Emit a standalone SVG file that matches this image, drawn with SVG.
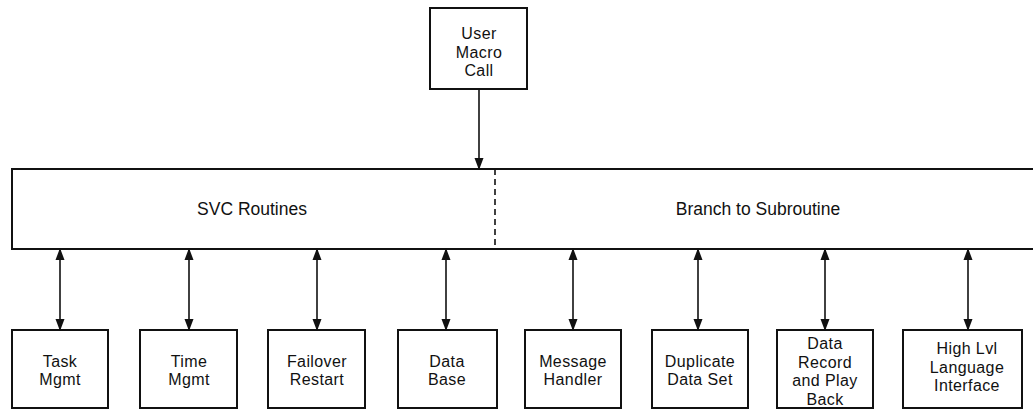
<svg xmlns="http://www.w3.org/2000/svg" width="1033" height="410" viewBox="0 0 1033 410">
<style>
.box{fill:#fff;stroke:#111;stroke-width:2}
.t{font-family:"Liberation Sans",Arial,sans-serif;font-size:16px;letter-spacing:0.4px;fill:#111;text-anchor:middle}
.h{font-family:"Liberation Sans",Arial,sans-serif;font-size:17.5px;fill:#111;text-anchor:middle}
.c{stroke:#111;stroke-width:1.6;fill:none}
</style>
<defs>
<marker id="ah" markerUnits="userSpaceOnUse" markerWidth="12" markerHeight="12" viewBox="0 0 12 12" refX="11" refY="6" orient="auto-start-reverse">
<path d="M0,1.5 L12,6 L0,10.5 Z" fill="#111"/>
</marker>
</defs>
<rect width="1033" height="410" fill="#fff"/>
<g id="user">
<rect class="box" x="430" y="8" width="97" height="81"/>
<text class="t" x="479" y="39">User</text>
<text class="t" x="479" y="57.5">Macro</text>
<text class="t" x="479" y="76">Call</text>
</g>
<g id="routines">
<rect class="box" x="12" y="169" width="1030" height="80"/>
<line x1="495" y1="169" x2="495" y2="249" stroke="#111" stroke-width="1.6" stroke-dasharray="6,4"/>
<text class="h" x="252" y="215">SVC Routines</text>
<text class="h" x="758" y="215">Branch to Subroutine</text>
</g>
<g id="task">
<rect class="box" x="12" y="330" width="96" height="78"/>
<text class="t" x="60" y="366.5">Task</text>
<text class="t" x="60" y="385">Mgmt</text>
</g>
<g id="time">
<rect class="box" x="140" y="330" width="97" height="78"/>
<text class="t" x="189" y="366.5">Time</text>
<text class="t" x="189" y="385">Mgmt</text>
</g>
<g id="failover">
<rect class="box" x="268" y="330" width="97" height="78"/>
<text class="t" x="317" y="366.5">Failover</text>
<text class="t" x="317" y="385">Restart</text>
</g>
<g id="database">
<rect class="box" x="398" y="330" width="99" height="78"/>
<text class="t" x="447" y="366.5">Data</text>
<text class="t" x="447" y="385">Base</text>
</g>
<g id="message">
<rect class="box" x="525" y="330" width="96" height="78"/>
<text class="t" x="573" y="366.5">Message</text>
<text class="t" x="573" y="385">Handler</text>
</g>
<g id="duplicate">
<rect class="box" x="652" y="330" width="96" height="78"/>
<text class="t" x="700" y="366.5">Duplicate</text>
<text class="t" x="700" y="385">Data Set</text>
</g>
<g id="record">
<rect class="box" x="777" y="330" width="96" height="78"/>
<text class="t" x="825" y="349">Data</text>
<text class="t" x="825" y="367.5">Record</text>
<text class="t" x="825" y="386">and Play</text>
<text class="t" x="825" y="404.5">Back</text>
</g>
<g id="highlvl">
<rect class="box" x="903" y="330" width="119" height="78"/>
<text class="t" x="967" y="354">High Lvl</text>
<text class="t" x="967" y="372.5">Language</text>
<text class="t" x="967" y="391">Interface</text>
</g>
<g id="connectors">
<line class="c" x1="479" y1="89" x2="479" y2="169" marker-end="url(#ah)"/>
<line class="c" x1="60" y1="249" x2="60" y2="330" marker-start="url(#ah)" marker-end="url(#ah)"/>
<line class="c" x1="189" y1="249" x2="189" y2="330" marker-start="url(#ah)" marker-end="url(#ah)"/>
<line class="c" x1="317" y1="249" x2="317" y2="330" marker-start="url(#ah)" marker-end="url(#ah)"/>
<line class="c" x1="446" y1="249" x2="446" y2="330" marker-start="url(#ah)" marker-end="url(#ah)"/>
<line class="c" x1="573" y1="249" x2="573" y2="330" marker-start="url(#ah)" marker-end="url(#ah)"/>
<line class="c" x1="698" y1="249" x2="698" y2="330" marker-start="url(#ah)" marker-end="url(#ah)"/>
<line class="c" x1="825" y1="249" x2="825" y2="330" marker-start="url(#ah)" marker-end="url(#ah)"/>
<line class="c" x1="968" y1="249" x2="968" y2="330" marker-start="url(#ah)" marker-end="url(#ah)"/>
</g>
</svg>
